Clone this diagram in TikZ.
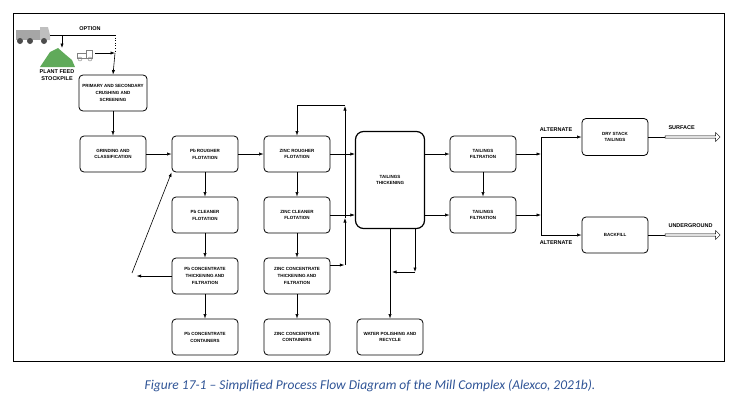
\documentclass[tikz,border=0pt]{standalone}
\usepackage{fontspec}
\setmainfont{Liberation Sans}
\newfontfamily\capfont{Carlito}
\usetikzlibrary{arrows.meta, positioning, shapes.arrows}
\definecolor{capblue}{RGB}{47,84,150}
\definecolor{pilegreen}{RGB}{96,170,90}
\begin{document}
\begin{tikzpicture}[x=1pt, y=-1pt,
	stepbox/.style={draw, rounded corners=4pt, thick, minimum width=66pt, minimum height=36pt, align=center, font=\fontsize{4.5}{6.8}\selectfont\bfseries},
	tag/.style={font=\fontsize{5.5}{6.5}\selectfont\bfseries},
	flow/.style={-{Latex[length=4.5pt,width=3.2pt]}, semithick},
	plain/.style={semithick},
	]
	\useasboundingbox (0,0) rectangle (737,410);
	\draw[thick] (13,13) rectangle (724,361);

	% process boxes
	\node[stepbox] (crush) at (113,93) {PRIMARY AND SECONDARY\\CRUSHING AND\\SCREENING};
	\node[stepbox] (grind) at (113,154) {GRINDING AND\\CLASSIFICATION};
	\node[stepbox] (pbrough) at (205,154) {Pb ROUGHER\\FLOTATION};
	\node[stepbox] (znrough) at (297,154) {ZINC ROUGHER\\FLOTATION};
	\node[stepbox] (pbclean) at (205,215) {Pb CLEANER\\FLOTATION};
	\node[stepbox] (znclean) at (297,215) {ZINC CLEANER\\FLOTATION};
	\node[stepbox] (pbconc) at (205,276) {Pb CONCENTRATE\\THICKENING AND\\FILTRATION};
	\node[stepbox] (znconc) at (297,276) {ZINC CONCENTRATE\\THICKENING AND\\FILTRATION};
	\node[stepbox] (pbcont) at (205,337) {Pb CONCENTRATE\\CONTAINERS};
	\node[stepbox] (zncont) at (297,337) {ZINC CONCENTRATE\\CONTAINERS};
	\node[stepbox, line width=1.2pt, rounded corners=8pt, minimum width=69pt, minimum height=97pt] (thick) at (390,180) {TAILINGS\\THICKENING};
	\node[stepbox] (water) at (390,337) {WATER POLISHING AND\\RECYCLE};
	\node[stepbox] (filta) at (483,154) {TAILINGS\\FILTRATION};
	\node[stepbox] (filtb) at (483,215) {TAILINGS\\FILTRATION};
	\node[stepbox, minimum height=37pt] (dry) at (615,137) {DRY STACK\\TAILINGS};
	\node[stepbox] (backfill) at (615,235) {BACKFILL};

	% feed icons
	\fill[gray!70] (16,30) rectangle (40,40);
	\fill[gray!50] (40,27) -- (48,27) -- (50,35) -- (50,40) -- (40,40) -- cycle;
	\foreach \w in {20,30,44}
		\fill[black!70] (\w,41) circle (3pt);
	\coordinate (truck) at (50,35);
	\fill[pilegreen] (40,67) -- (50,52) -- (58,48) -- (66,55) -- (72,60) -- (75,67) -- cycle;
	\node[tag, align=center] (pile) at (57,75) {PLANT FEED\\STOCKPILE};
	\draw[gray] (77,53) rectangle (86,58) (86,50) rectangle (92,58);
	\draw[gray] (80,59) circle (2pt) (90,59) circle (2pt);
	\coordinate (loader) at (95,53);
	\coordinate (optcorner) at (115,35);
	\coordinate (feed) at (115,53);
	\node[tag] (option) at (90,29) {OPTION};
	\draw[plain] (truck) -- (optcorner);
	\draw[flow] (62,35) -- (62,48);
	\draw[semithick, dotted] (optcorner) -- (feed);
	\draw[flow] (loader) -- (feed);
	\draw[flow] (feed) -- (crush.north);

	% main flow
	\draw[flow] (crush) -- (grind);
	\draw[flow] (grind) -- (pbrough);
	\draw[flow] (pbrough) -- (znrough);
	\draw[flow] (pbrough) -- (pbclean);
	\draw[flow] (pbclean) -- (pbconc);
	\draw[flow] (pbconc) -- (pbcont);
	\draw[flow] (znrough) -- (znclean);
	\draw[flow] (znclean) -- (znconc);
	\draw[flow] (znconc) -- (zncont);
	\draw[flow] (pbconc.west) -- ++(-35,0);
	\coordinate (recyc) at (132,273);
	\draw[flow] (recyc) -- (pbrough.south west);

	% zinc return line
	\draw[flow] (znconc.east |- 0,265) -- ++(14,0);
	\draw[flow] (345,265) -- (345,218);
	\draw[flow] (345,218) -- (345,106);
	\draw[plain] (345,105) -- (znrough.north |- 0,105);
	\draw[flow] (znrough.north |- 0,105) -- (znrough.north);
	\draw[flow] (znrough.east) -- (znrough.east -| thick.west);
	\draw[flow] (znclean.east) -- (znclean.east -| thick.west);

	% thickener bottom
	\draw[flow] (thick.south) -- (water.north);
	\draw[flow] (415,228) -- (415,272);
	\draw[flow] (415,272) -- (392,272);

	% tailings filtration
	\draw[flow] (thick.east |- filta) -- (filta.west);
	\draw[flow] (thick.east |- filtb) -- (filtb.west);
	\draw[flow] (filta) -- (filtb);
	\coordinate (split) at (541,137);
	\draw[flow] (filta.east) -- (filta.east -| split);
	\draw[flow] (filtb.east) -- (filtb.east -| split);
	\draw[plain] (split) -- (541,235);
	\draw[flow] (split) -- (dry.west);
	\draw[flow] (541,235) -- (backfill.west);
	\node[tag, anchor=south] (alt1) at (556,135) {ALTERNATE};
	\node[tag, anchor=north] (alt2) at (556,237) {ALTERNATE};

	% outlets
	\node[draw, single arrow, minimum height=55pt, minimum width=9pt, single arrow head extend=2pt, inner sep=0.5pt, thin] (surf) at (692,137) {};
	\node[draw, single arrow, minimum height=55pt, minimum width=9pt, single arrow head extend=2pt, inner sep=0.5pt, thin] (under) at (692,235) {};
	\draw[thick] (dry.east) -- (surf.tail);
	\draw[thick] (backfill.east) -- (under.tail);
	\node[tag, anchor=south west] (surftxt) at (665,133) {SURFACE};
	\node[tag, anchor=south west] (undertxt) at (665,231) {UNDERGROUND};

	% caption
	\node[font=\capfont\itshape\fontsize{13.5}{16}\selectfont, text=capblue] (caption) at (370,386) {Figure 17-1 – Simplified Process Flow Diagram of the Mill Complex (Alexco, 2021b).};
\end{tikzpicture}
\end{document}
